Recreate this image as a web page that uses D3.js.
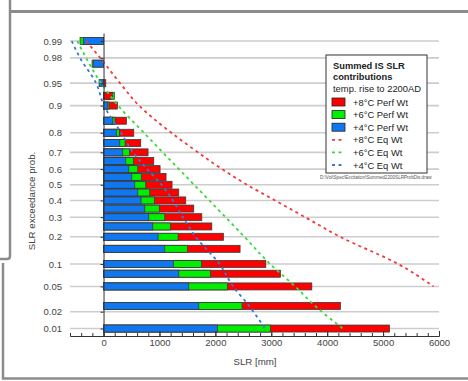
<!DOCTYPE html>
<html>
<head>
<meta charset="utf-8">
<script src="https://cdn.jsdelivr.net/npm/d3@7"></script>
<style>
  body { margin: 0; background: #fff; }
  text { font-family: "Liberation Sans", Arial, sans-serif; }
</style>
</head>
<body>
<div id="chart"></div>
<script>
// exceedance probability of each bar row
const rowProbs = [0.99, 0.975, 0.95, 0.925, 0.9, 0.85, 0.8, 0.75, 0.7, 0.65, 0.6, 0.55, 0.5,
  0.45, 0.4, 0.35, 0.3, 0.25, 0.2, 0.15, 0.1, 0.075, 0.05, 0.025, 0.01];
// summed SLR [mm], perfect-model weighting
const perf8 = [0, 0, 40, 157, 247, 408, 540, 665, 796, 898, 1011, 1118, 1225,
  1345, 1470, 1613, 1757, 1936, 2143, 2442, 2902, 3163, 3725, 4236, 5113];
const perf6 = [-420, -205, -5, 193, 98, 206, 283, 385, 462, 533, 612, 676, 755,
  826, 909, 998, 1095, 1195, 1333, 1499, 1750, 1911, 2215, 2478, 2984];
const perf4 = [-360, -185, -80, 8, 75, 165, 229, 290, 343, 397, 451, 504, 558,
  612, 671, 737, 808, 880, 975, 1095, 1249, 1345, 1524, 1703, 2036];

// equal weighting curves
const eqProbs = [0.99, 0.98, 0.95, 0.9, 0.8, 0.7, 0.6, 0.5, 0.4, 0.3, 0.2, 0.1, 0.05, 0.025, 0.01];
const eq8 = [-310, -60, 295, 635, 1213, 1690, 2120, 2567, 3068, 3605, 4231, 5268, 5902, null, null];
const eq6 = [-470, -313, -45, 259, 723, 1059, 1349, 1619, 1891, 2182, 2519, 2978, 3426, 3784, 4279];
const eq4 = [-569, -420, -134, 9, 313, 528, 778, 1039, 1241, 1419, 1646, 2075, 2317, 2603, 2889];

const probTicks = [0.99, 0.98, 0.95, 0.9, 0.8, 0.7, 0.6, 0.5, 0.4, 0.3, 0.2, 0.1, 0.05, 0.02, 0.01];
const slrTicks = [0, 1000, 2000, 3000, 4000, 5000, 6000];

const RED = '#ff0000', GREEN = '#00ee00', BLUE = '#1177f0';

// inverse normal CDF (Acklam), used for the probability axis
function probit(p) {
  const a = [-39.69683028665376, 220.9460984245205, -275.9285104469687, 138.3577518672690, -30.66479806614716, 2.506628277459239];
  const b = [-54.47609879822406, 161.5858368580409, -155.6989798598866, 66.80131188771972, -13.28068155288572];
  const c = [-0.007784894002430293, -0.3223964580411365, -2.400758277161838, -2.549732539343734, 4.374664141464968, 2.938163982698783];
  const d = [0.007784695709041462, 0.3224671290700398, 2.445134137142996, 3.754408661907416];
  const tail = q => (((((c[0] * q + c[1]) * q + c[2]) * q + c[3]) * q + c[4]) * q + c[5]) /
    ((((d[0] * q + d[1]) * q + d[2]) * q + d[3]) * q + 1);
  if (p < 0.02425) return tail(Math.sqrt(-2 * Math.log(p)));
  if (p > 1 - 0.02425) return -tail(Math.sqrt(-2 * Math.log(1 - p)));
  const q = p - 0.5, r = q * q;
  return (((((a[0] * r + a[1]) * r + a[2]) * r + a[3]) * r + a[4]) * r + a[5]) * q /
    (((((b[0] * r + b[1]) * r + b[2]) * r + b[3]) * r + b[4]) * r + 1);
}

const width = 468, height = 381;
const svg = d3.select('#chart').append('svg')
  .attr('width', width).attr('height', height)
  .style('display', 'block');

// window frame
svg.append('path').attr('d', 'M10,0 V256 Q10,259 7,259 H0')
  .attr('fill', 'none').attr('stroke', '#8c8c8c').attr('stroke-width', 2.5);
svg.append('path').attr('d', 'M3,263 V378.5 H468')
  .attr('fill', 'none').attr('stroke', '#8c8c8c').attr('stroke-width', 2.5);
svg.append('path').attr('d', 'M10,11.5 H468')
  .attr('fill', 'none').attr('stroke', '#8c8c8c').attr('stroke-width', 3);

const x = d3.scaleLinear().domain([-600, 6000]).range([70, 439]);
const y = d3.scaleLinear().domain([-2.447, 2.456]).range([336, 33]);
const yp = p => y(probit(p));

// gridlines
svg.append('g').selectAll('line').data(probTicks).enter().append('line')
  .attr('x1', x(-600)).attr('x2', x(6000))
  .attr('y1', yp).attr('y2', yp)
  .attr('stroke', '#cdcdcd').attr('stroke-width', 1.6);

// bars: longest magnitude drawn first so shorter ones stay visible
const rows = rowProbs.map((p, i) => ({
  p,
  segs: [
    { v: perf8[i], c: RED },
    { v: perf6[i], c: GREEN },
    { v: perf4[i], c: BLUE },
  ].sort((s, t) => Math.abs(t.v) - Math.abs(s.v)),
}));

const barH = 7;
svg.append('g').selectAll('g').data(rows).enter().append('g')
  .attr('transform', d => `translate(0, ${yp(d.p) - barH / 2})`)
  .selectAll('rect').data(d => d.segs).enter().append('rect')
  .attr('x', d => x(Math.min(0, d.v)))
  .attr('width', d => Math.abs(x(d.v) - x(0)))
  .attr('height', barH)
  .attr('fill', d => d.c)
  .attr('stroke', '#3a3a3a')
  .attr('stroke-width', 0.8);

// equal weighting curves
const curves = [
  { values: eq8, color: '#f23a3a' },
  { values: eq6, color: '#3ad83a' },
  { values: eq4, color: '#3a78d0' },
];
const line = d3.line()
  .defined(d => d.v !== null)
  .x(d => x(d.v))
  .y(d => yp(d.p))
  .curve(d3.curveMonotoneY);
svg.append('g').selectAll('path').data(curves).enter().append('path')
  .attr('d', c => line(eqProbs.map((p, i) => ({ p, v: c.values[i] }))))
  .attr('fill', 'none')
  .attr('stroke', c => c.color)
  .attr('stroke-width', 1.8)
  .attr('stroke-dasharray', '3,3.5');

// x axis: minor and major ticks pointing up
const xAxisG = svg.append('g').attr('transform', `translate(0, ${y.range()[0]})`);
xAxisG.append('g')
  .call(d3.axisBottom(x).tickValues(d3.range(-600, 6001, 200)).tickSize(-3).tickSizeOuter(0).tickFormat(''));
xAxisG.append('g')
  .call(d3.axisBottom(x).tickValues(slrTicks).tickSize(-5).tickSizeOuter(0).tickPadding(3)
    .tickFormat(d3.format('d')));
xAxisG.selectAll('path, line').attr('stroke', '#333');
xAxisG.selectAll('text').attr('font-size', 9.5).attr('fill', '#444');

// y axis line at 0 mm with small ticks
const yAxisG = svg.append('g').attr('transform', `translate(${x(0)}, 0)`);
yAxisG.call(d3.axisLeft(y).tickValues(probTicks.map(probit)).tickSize(3).tickSizeOuter(0).tickFormat(''));
yAxisG.selectAll('path, line').attr('stroke', '#333');

// probability labels left of the gridlines
const yLabG = svg.append('g').attr('transform', `translate(${x(-600)}, 0)`);
yLabG.call(d3.axisLeft(y).tickValues(probTicks.map(probit)).tickSize(0).tickPadding(8)
  .tickFormat((z, i) => String(probTicks[i])));
yLabG.select('.domain').remove();
yLabG.selectAll('text').attr('font-size', 9.5).attr('fill', '#444');

// axis titles
svg.append('text')
  .attr('x', 255).attr('y', 365)
  .attr('text-anchor', 'middle')
  .attr('font-size', 9.7).attr('fill', '#444')
  .text('SLR [mm]');
svg.append('text')
  .attr('transform', 'translate(34.5, 201) rotate(-90)')
  .attr('text-anchor', 'middle')
  .attr('font-size', 9.7).attr('fill', '#444')
  .text('SLR exceedance prob.');

// legend
const legend = svg.append('g').attr('transform', 'translate(326, 55)');
legend.append('rect')
  .attr('width', 101).attr('height', 118)
  .attr('fill', '#fff').attr('stroke', '#333').attr('stroke-width', 1);
legend.append('text').attr('x', 7).attr('y', 14)
  .attr('font-size', 9.3).attr('font-weight', 'bold').attr('fill', '#222').text('Summed IS SLR');
legend.append('text').attr('x', 7).attr('y', 24.5)
  .attr('font-size', 9.3).attr('font-weight', 'bold').attr('fill', '#222').text('contributions');
legend.append('text').attr('x', 7).attr('y', 37)
  .attr('font-size', 9.4).attr('fill', '#222').text('temp. rise to 2200AD');

const legendItems = [
  { label: '+8°C Perf Wt', color: RED, kind: 'bar' },
  { label: '+6°C Perf Wt', color: GREEN, kind: 'bar' },
  { label: '+4°C Perf Wt', color: BLUE, kind: 'bar' },
  { label: '+8°C Eq Wt', color: curves[0].color, kind: 'line' },
  { label: '+6°C Eq Wt', color: curves[1].color, kind: 'line' },
  { label: '+4°C Eq Wt', color: curves[2].color, kind: 'line' },
];
const item = legend.selectAll('g.item').data(legendItems).enter().append('g')
  .attr('class', 'item')
  .attr('transform', (d, i) => `translate(0, ${47 + i * 12.6})`);
item.filter(d => d.kind === 'bar').append('rect')
  .attr('x', 6).attr('y', -4).attr('width', 13).attr('height', 8)
  .attr('fill', d => d.color).attr('stroke', '#222').attr('stroke-width', 0.8);
item.filter(d => d.kind === 'line').append('line')
  .attr('x1', 6).attr('x2', 19)
  .attr('stroke', d => d.color).attr('stroke-width', 1.8).attr('stroke-dasharray', '3,3.5');
item.append('text')
  .attr('x', 27).attr('y', 3.5)
  .attr('font-size', 9.4).attr('fill', '#222')
  .text(d => d.label);

svg.append('text')
  .attr('x', 320).attr('y', 179)
  .attr('font-size', 4.6).attr('fill', '#555')
  .text('D:\\Vol\\Spec\\Excitation\\Summed2200SLRProbDis.draw');
</script>
</body>
</html>
